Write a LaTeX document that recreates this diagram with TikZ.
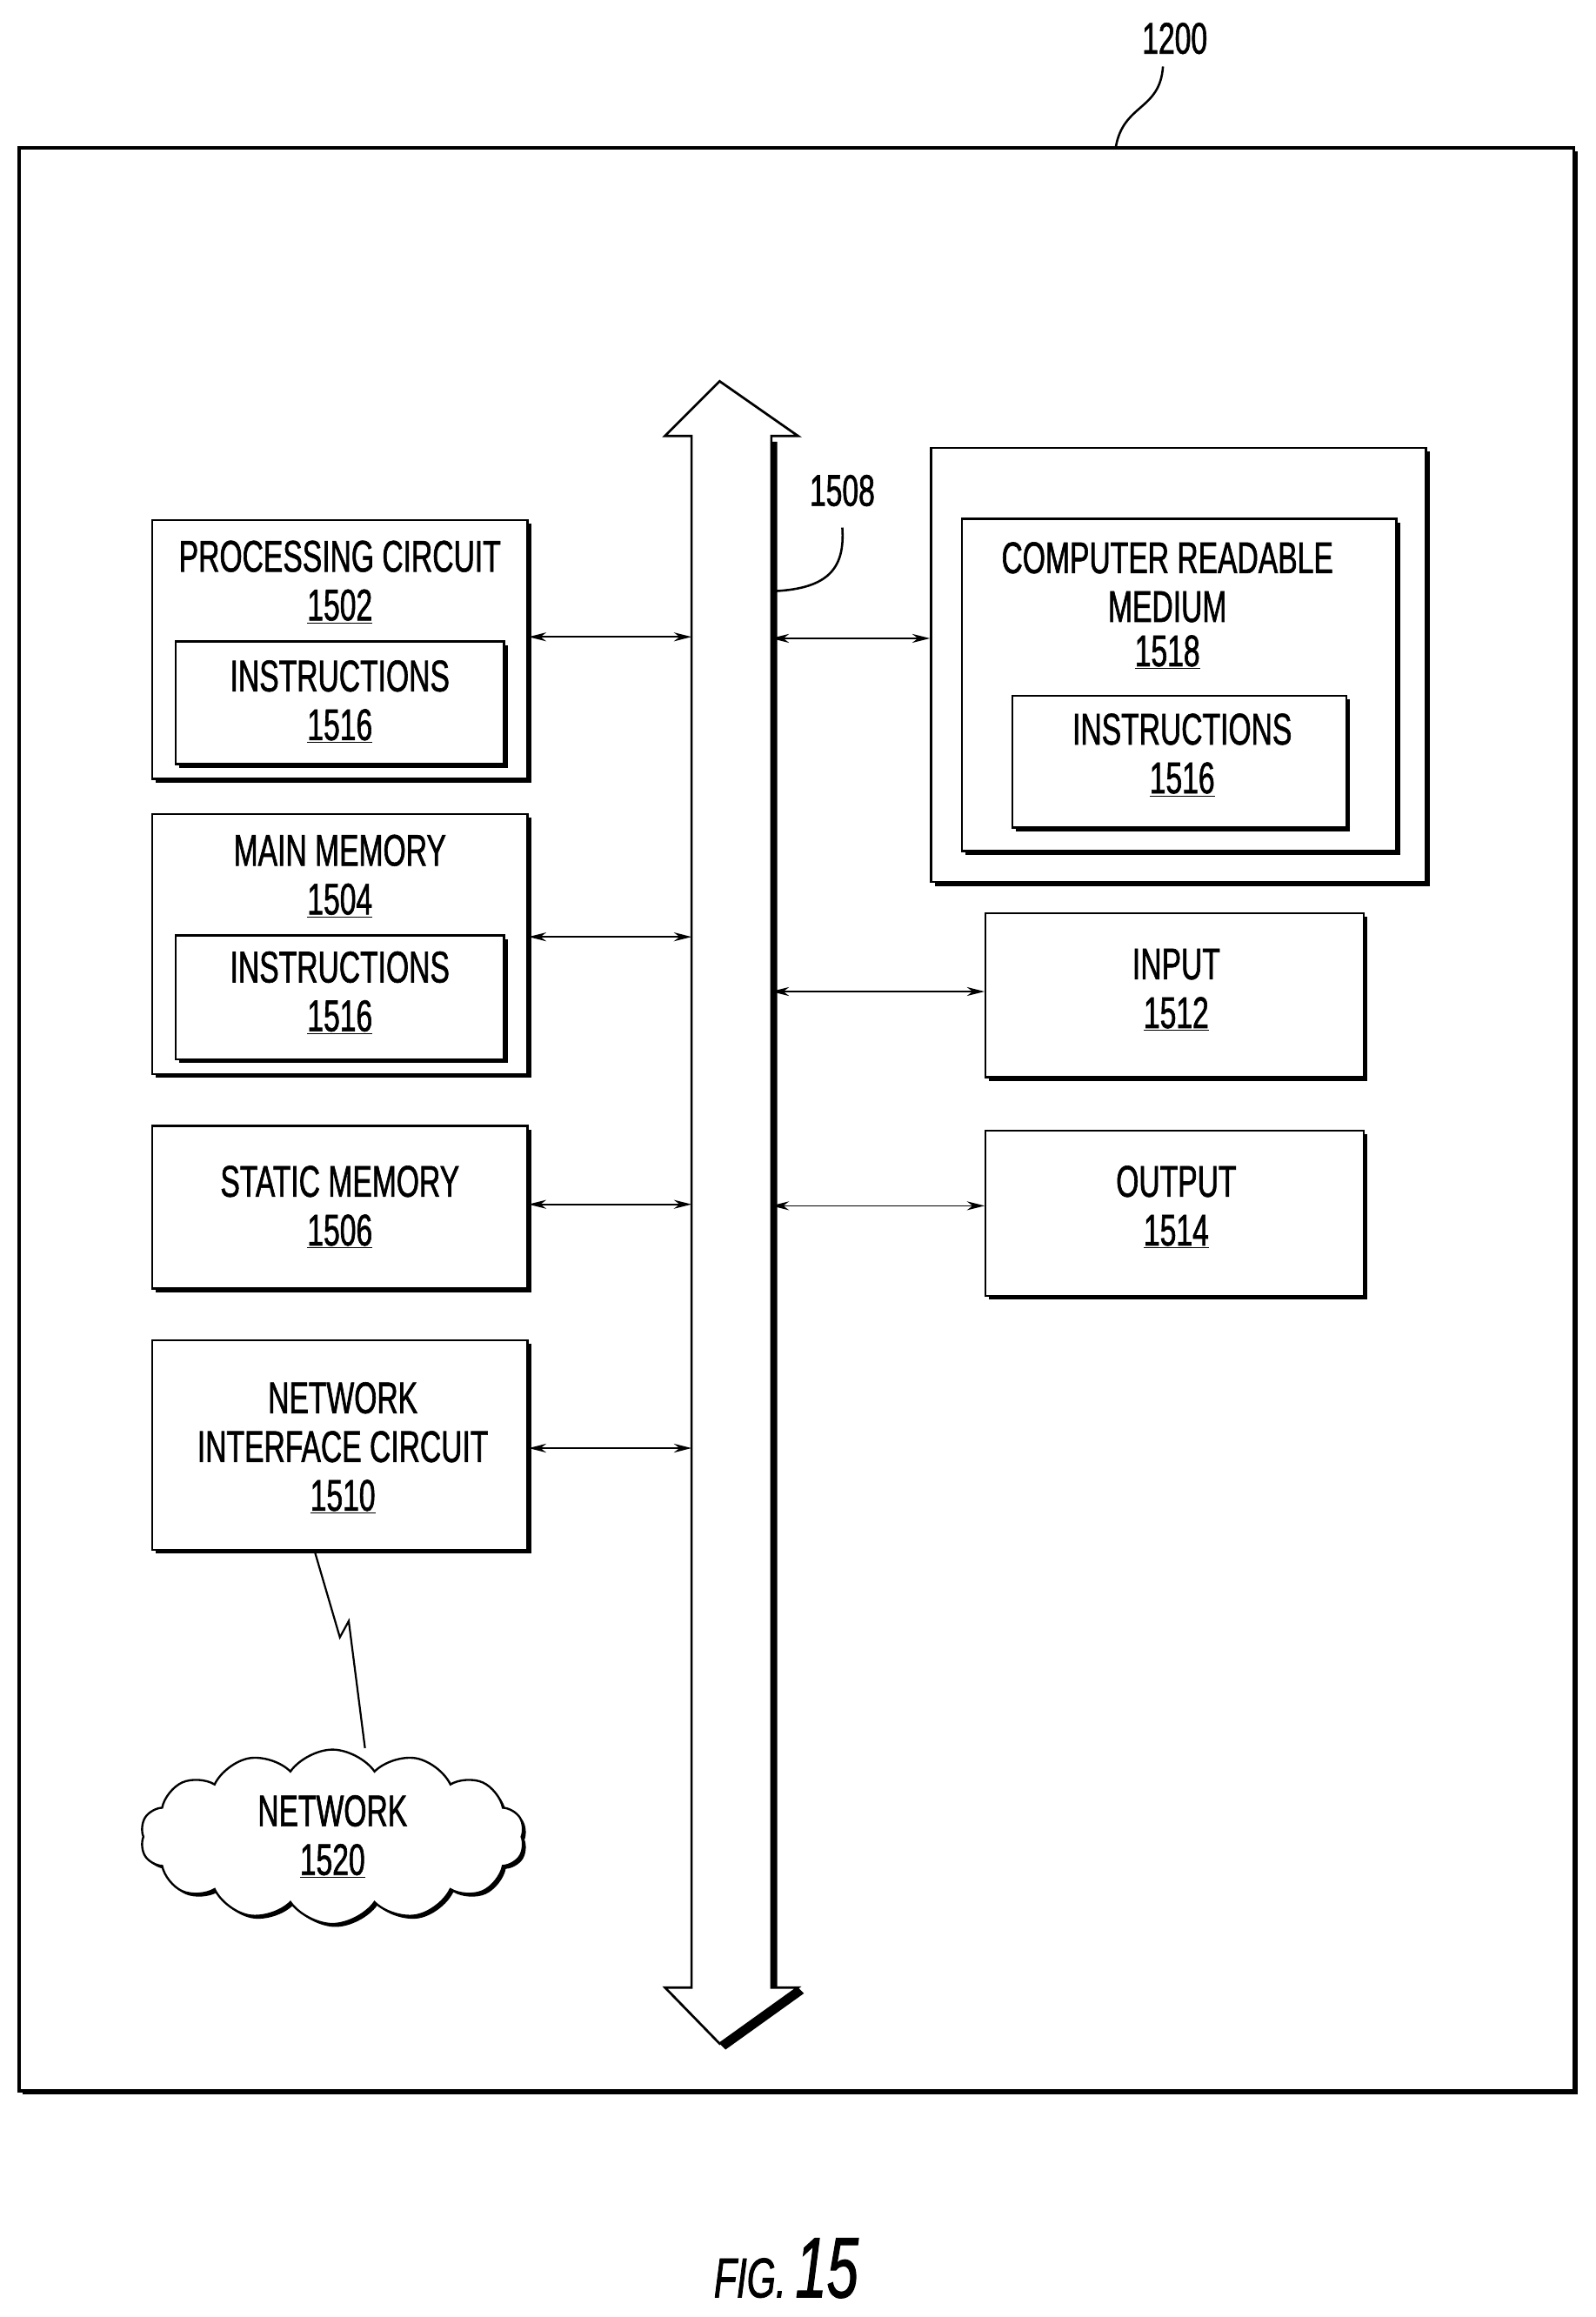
\documentclass[tikz,border=0pt]{standalone}
\usepackage{fontspec}
\setmainfont[FakeStretch=0.66,FakeBold=1.2]{Liberation Sans}
\usetikzlibrary{shadows,arrows.meta,shapes.symbols}
\begin{document}
\begin{tikzpicture}[x=1pt,y=-1pt,
  box/.style={draw,line width=1.4pt,fill=white,inner sep=0,
    drop shadow={fill=black,opacity=1,shadow xshift=2.5pt,shadow yshift=-2.5pt}},
  txt/.style={font=\fontsize{30}{33}\selectfont,align=center,inner sep=0},
  con/.style={line width=1pt,{Stealth[length=12pt,width=6pt]}-{Stealth[length=12pt,width=6pt]}}]
\useasboundingbox (0,0) rectangle (1080,1568);
% outer
\node[box,line width=2pt,minimum width=1052pt,minimum height=1315pt] (outer) at (539,757.5) {};
\node[txt] (l1200) at (795,26) {1200};
\draw[line width=1.5pt] (755,100) .. controls (760,70) and (785,75) .. (787,45);
% bus
\coordinate (bt) at (487,258); \coordinate (bb) at (487,1383);
\fill[black] (526,299)--(526,1349)--(542,1349)--(540,1345)--(522,1345)--(522,299)--cycle;
\fill[black] (540,1345)--(544,1349)--(491,1387)--(487,1383)--cycle;
\draw[line width=1.6pt,fill=white] (bt)--(540,295)--(522,295)--(522,1345)--(540,1345)--(bb)--(450,1345)--(468,1345)--(468,295)--(450,295)--cycle;
\node[txt] (l1508) at (570,332) {1508};
\draw[line width=1.5pt] (525,400) .. controls (560,398) and (572,385) .. (570,357);
% left boxes
\node[box,minimum width=254pt,minimum height=175pt] (pc) at (230,439.5) {};
\node[txt] (pct) at (230,394) {PROCESSING CIRCUIT\\\underline{1502}};
\node[box,minimum width=222pt,minimum height=83pt] (pci) at (230,475.5) {};
\node[txt] (pcit) at (230,475) {INSTRUCTIONS\\\underline{1516}};
\node[box,minimum width=254pt,minimum height=176pt] (mm) at (230,639) {};
\node[txt] (mmt) at (230,593) {MAIN MEMORY\\\underline{1504}};
\node[box,minimum width=222pt,minimum height=84pt] (mmi) at (230,675) {};
\node[txt] (mmit) at (230,672) {INSTRUCTIONS\\\underline{1516}};
\node[box,minimum width=254pt,minimum height=110pt] (sm) at (230,817) {};
\node[txt] (smt) at (230,817) {STATIC MEMORY\\\underline{1506}};
\node[box,minimum width=254pt,minimum height=142pt] (ni) at (230,978) {};
\node[txt] (nit) at (232,980) {NETWORK\\INTERFACE CIRCUIT\\\underline{1510}};
\node[cloud,draw,line width=1.4pt,fill=white,cloud puffs=14,cloud puff arc=110,aspect=2.3,minimum width=260pt,minimum height=118pt,drop shadow={fill=black,opacity=1,shadow xshift=2pt,shadow yshift=-2pt}] (net) at (225,1243) {};
\node[txt] (nett) at (225,1243) {NETWORK\\\underline{1520}};
\coordinate (z1) at (230,1108); \coordinate (z2) at (236,1097);
\draw[line width=1.3pt] (213,1050)--(z1)--(z2)--(247,1183);
% right boxes
\node[box,minimum width=335pt,minimum height=294pt] (crm) at (797.5,450) {};
\node[box,minimum width=294pt,minimum height=225pt] (crmi) at (798,463.5) {};
\node[txt] (crmt) at (790,410) {COMPUTER READABLE\\MEDIUM\\[-3pt]\underline{1518}};
\node[box,minimum width=226pt,minimum height=89pt] (crmii) at (798,515.5) {};
\node[txt] (crmiit) at (800,511) {INSTRUCTIONS\\\underline{1516}};
\node[box,minimum width=256pt,minimum height=111pt] (in) at (795,673.5) {};
\node[txt] (int) at (796,670) {INPUT\\\underline{1512}};
\node[box,minimum width=256pt,minimum height=112pt] (out) at (795,821) {};
\node[txt] (outt) at (796,817) {OUTPUT\\\underline{1514}};
% connectors
\draw[con] (pc.east|-0,431) -- (468,431);
\draw[con] (mm.east|-0,634) -- (468,634);
\draw[con] (sm.east|-0,815) -- (468,815);
\draw[con] (ni.east|-0,980) -- (468,980);
\draw[con] (522,432) -- (crm.west|-0,432);
\draw[con] (522,671) -- (in.west|-0,671);
\draw[con] (522,816) -- (out.west|-0,816);
% fig
\node[inner sep=0] (fig) at (532,1535) {\fontsize{38}{40}\selectfont\itshape FIG.\,\fontsize{58}{60}\selectfont 15};
\end{tikzpicture}
\end{document}
